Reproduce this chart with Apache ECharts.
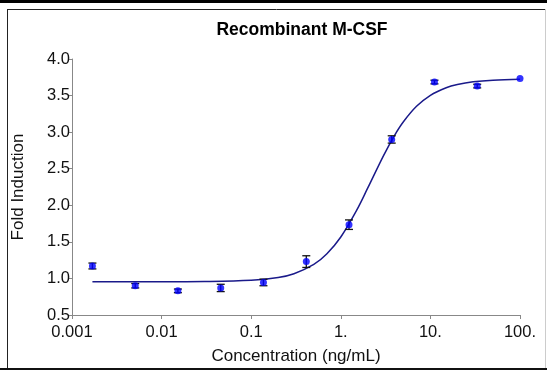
<!DOCTYPE html>
<html>
<head>
<meta charset="utf-8">
<script src="https://cdn.jsdelivr.net/npm/echarts@6/dist/echarts.min.js"></script>
<style>
  html, body { margin: 0; padding: 0; background: #fff; }
  #chart { width: 547px; height: 374px; }
</style>
</head>
<body>
<div id="chart"></div>
<script>
// measured points (concentration ng/mL, fold induction, error)
const conc   = [0.00169, 0.00508, 0.0152, 0.0457, 0.137, 0.412, 1.235, 3.70, 11.1, 33.3, 100]
const fold   = [1.17, 0.90, 0.83, 0.87, 0.945, 1.23, 1.735, 2.90, 3.685, 3.63, 3.735]
const errs   = [0.04, 0.03, 0.025, 0.05, 0.045, 0.08, 0.065, 0.05, 0.025, 0.025, 0]

// fitted curve
const fitX = [0.00169, 0.01, 0.03, 0.1, 0.2, 0.3, 0.5, 0.7, 1, 1.5, 2, 3, 4, 5, 7, 10, 15, 20, 30, 50, 100]
const fitY = [0.955, 0.955, 0.958, 0.975, 1.013, 1.065, 1.192, 1.338, 1.567, 1.930, 2.237, 2.680, 2.960, 3.142, 3.353, 3.504, 3.607, 3.651, 3.688, 3.711, 3.724]

const xTickLabels = { 0.001: '0.001', 0.01: '0.01', 0.1: '0.1', 1: '1.', 10: '10.', 100: '100.' }

const FONT = '"Liberation Sans", Arial, sans-serif'

const chart = echarts.init(document.getElementById('chart'))
chart.setOption({
  animation: false,
  title: {
    text: 'Recombinant M-CSF',
    left: 297, top: 16, textAlign: 'center',
    textStyle: { fontFamily: FONT, fontSize: 17.5, fontWeight: 'bold', color: '#000' },
  },
  graphic: [
    { type: 'rect', shape: { x: 0, y: 0, width: 547, height: 3 }, style: { fill: '#000' } },
    { type: 'line', shape: { x1: 7, y1: 9.5, x2: 546, y2: 9.5 }, style: { stroke: '#222', lineWidth: 1 } },
    { type: 'line', shape: { x1: 7.5, y1: 9, x2: 7.5, y2: 369 }, style: { stroke: '#222', lineWidth: 1 } },
    { type: 'line', shape: { x1: 545.5, y1: 9, x2: 545.5, y2: 369 }, style: { stroke: '#ccc', lineWidth: 1 } },
    { type: 'rect', shape: { x: 0, y: 368, width: 547, height: 2 }, style: { fill: '#111' } },
  ],
  grid: { left: 72, right: 27, top: 59, bottom: 59, outerBoundsMode: 'none', containLabel: false },
  xAxis: {
    type: 'log', logBase: 10, min: 0.001, max: 100,
    name: 'Concentration (ng/mL)', nameLocation: 'middle', nameGap: 33,
    nameTextStyle: { fontFamily: FONT, fontSize: 17, color: '#111' },
    axisLine: { lineStyle: { color: '#888' } },
    axisTick: { lineStyle: { color: '#888' }, length: 4 },
    minorTick: { show: false },
    splitLine: { show: false },
    axisLabel: {
      fontFamily: FONT, fontSize: 16.5, color: '#111', margin: 9,
      formatter: v => xTickLabels[+v.toPrecision(3)] ?? '',
    },
  },
  yAxis: {
    type: 'value', min: 0.5, max: 4.0, interval: 0.5,
    name: 'Fold Induction', nameLocation: 'middle', nameGap: 45,
    nameTextStyle: { fontFamily: FONT, fontSize: 17, color: '#111' },
    axisLine: { show: true, lineStyle: { color: '#888' } },
    axisTick: { show: true, lineStyle: { color: '#888' }, length: 4 },
    splitLine: { show: false },
    axisLabel: { fontFamily: FONT, fontSize: 16.5, color: '#111', margin: 2, formatter: v => v.toFixed(1) },
  },
  series: [
    {
      type: 'line',
      data: fitX.map((x, i) => [x, fitY[i]]),
      showSymbol: false,
      smooth: 0.35,
      lineStyle: { color: '#1a1a8a', width: 1.5 },
      z: 2,
    },
    {
      type: 'custom',
      data: conc.map((x, i) => [x, fold[i], errs[i]]),
      renderItem: (params, api) => {
        const x = api.value(0), y = api.value(1), e = api.value(2)
        if (!e) return null
        const top = api.coord([x, y + e])
        const bot = api.coord([x, y - e])
        const w = 4
        const st = { stroke: '#111', lineWidth: 1.3 }
        return {
          type: 'group',
          children: [
            { type: 'line', shape: { x1: top[0], y1: top[1], x2: bot[0], y2: bot[1] }, style: st },
            { type: 'line', shape: { x1: top[0] - w, y1: top[1], x2: top[0] + w, y2: top[1] }, style: st },
            { type: 'line', shape: { x1: bot[0] - w, y1: bot[1], x2: bot[0] + w, y2: bot[1] }, style: st },
          ],
        }
      },
      z: 3,
    },
    {
      type: 'scatter',
      data: conc.map((x, i) => [x, fold[i]]),
      symbolSize: 7,
      itemStyle: { color: '#0000ff' },
      z: 4,
    },
  ],
})
</script>
</body>
</html>
